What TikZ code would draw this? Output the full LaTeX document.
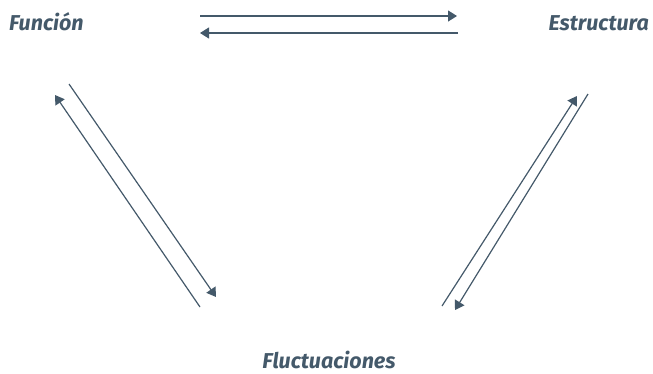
\documentclass[tikz,border=0pt]{standalone}
\usepackage{fontspec}
\setmainfont{Fira Sans}
\usetikzlibrary{arrows.meta}
\definecolor{slate}{HTML}{44596A}
\begin{document}
\begin{tikzpicture}[x=1pt,y=-1pt,
  lbl/.style={font=\fontsize{21.5}{24}\selectfont\bfseries\itshape, text=slate, inner sep=0pt},
  arr/.style={draw=slate, line width=1.2pt, -{Triangle[length=9pt,width=11pt]}}]
\useasboundingbox (0,0) rectangle (653,373);
\node[lbl, anchor=base west] (fun) at (9,30) {Función};
\node[lbl, anchor=base east] (est) at (649,30) {Estructura};
\node[lbl, anchor=base] (flu) at (329,368) {Fluctuaciones};
\coordinate (t1a) at (200,16); \coordinate (t1b) at (457,16);
\coordinate (t2a) at (458,33); \coordinate (t2b) at (200,33);
\coordinate (la1) at (200,307); \coordinate (la2) at (55,95);
\coordinate (lb1) at (69,84); \coordinate (lb2) at (216,297);
\coordinate (rc1) at (442,306); \coordinate (rc2) at (577,96);
\coordinate (rd1) at (588,94); \coordinate (rd2) at (455,310);
\draw[arr] (t1a) -- (t1b);
\draw[arr] (t2a) -- (t2b);
\draw[arr] (la1) -- (la2);
\draw[arr] (lb1) -- (lb2);
\draw[arr] (rc1) -- (rc2);
\draw[arr] (rd1) -- (rd2);
\end{tikzpicture}
\end{document}
